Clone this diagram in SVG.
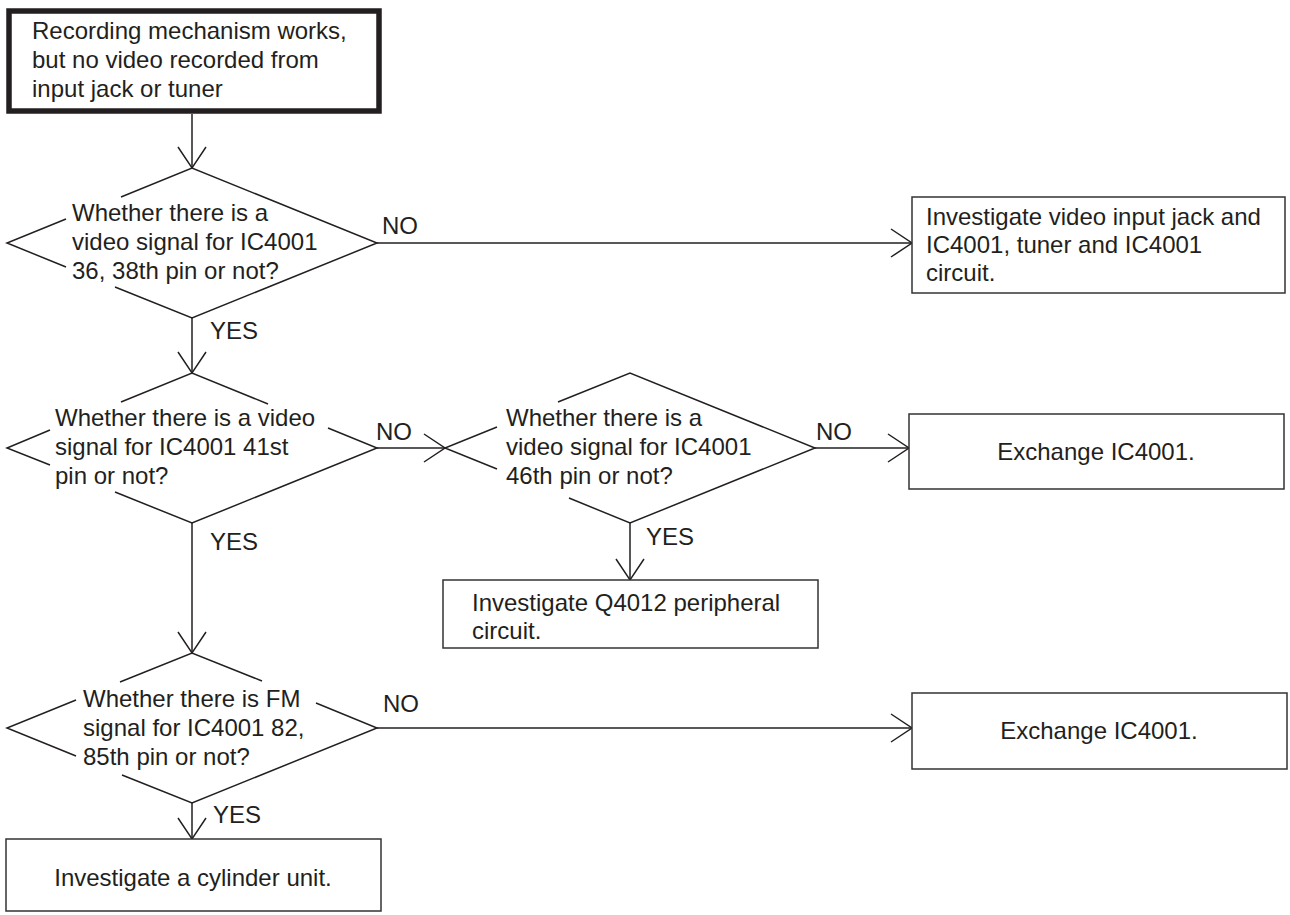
<svg xmlns="http://www.w3.org/2000/svg" width="1290" height="915" viewBox="0 0 1290 915">
<style>
text{font-family:"Liberation Sans",Arial,sans-serif;font-size:24px;fill:#231f20}
.ln{fill:none;stroke:#231f20;stroke-width:1.5}
.box{fill:#fff;stroke:#333;stroke-width:1.5}
.start{fill:#fff;stroke:#231f20;stroke-width:5.5}
.mid{text-anchor:middle}
</style>
<defs>
<marker id="arr" markerUnits="userSpaceOnUse" markerWidth="30" markerHeight="34" viewBox="-24 -17 30 34" refX="0" refY="0" orient="auto">
<path d="M-21,-14 L0,0 L-21,14" fill="none" stroke="#231f20" stroke-width="1.5"/>
</marker>
</defs>
<rect width="1290" height="915" fill="#fff"/>
<g id="connectors">
<path class="ln" d="M192,114 V168" marker-end="url(#arr)"/>
<path class="ln" d="M192,318 V373" marker-end="url(#arr)"/>
<path class="ln" d="M377,243 H912" marker-end="url(#arr)"/>
<path class="ln" d="M377,448 H445" marker-end="url(#arr)"/>
<path class="ln" d="M815,448 H909" marker-end="url(#arr)"/>
<path class="ln" d="M630,523 V580" marker-end="url(#arr)"/>
<path class="ln" d="M192,523 V653" marker-end="url(#arr)"/>
<path class="ln" d="M377,728 H912" marker-end="url(#arr)"/>
<path class="ln" d="M192,803 V839" marker-end="url(#arr)"/>
<text x="382" y="234">NO</text>
<text x="210" y="339">YES</text>
<text x="376" y="440">NO</text>
<text x="816" y="440">NO</text>
<text x="646" y="545">YES</text>
<text x="210" y="550">YES</text>
<text x="383" y="712">NO</text>
<text x="213" y="823">YES</text>
</g>
<g id="start">
<rect class="start" x="9" y="11" width="370" height="100"/>
<text x="32" y="39">Recording mechanism works,</text>
<text x="32" y="68">but no video recorded from</text>
<text x="32" y="97">input jack or tuner</text>
</g>
<g id="d1">
<path class="ln" d="M115,287 L192,318 L377,243 L192,168 L121,197 M66,219 L7,243 L66,267"/>
<text x="72" y="221">Whether there is a</text>
<text x="72" y="250">video signal for IC4001</text>
<text x="72" y="279">36, 38th pin or not?</text>
</g>
<g id="box1">
<rect class="box" x="912" y="197" width="373" height="96"/>
<text x="926" y="225">Investigate video input jack and</text>
<text x="926" y="253">IC4001, tuner and IC4001</text>
<text x="926" y="281">circuit.</text>
</g>
<g id="d2">
<path class="ln" d="M328,428 L377,448 L192,523 L115,492 M268,404 L192,373 L121,402 M50,430 L7,448 L50,465"/>
<text x="55" y="426">Whether there is a video</text>
<text x="55" y="455">signal for IC4001 41st</text>
<text x="55" y="484">pin or not?</text>
</g>
<g id="d3">
<path class="ln" d="M569,498 L630,523 L815,448 L630,373 L558,402 M497,427 L445,448 L497,469"/>
<text x="506" y="426">Whether there is a</text>
<text x="506" y="455">video signal for IC4001</text>
<text x="506" y="484">46th pin or not?</text>
</g>
<g id="box2">
<rect class="box" x="909" y="414" width="375" height="75"/>
<text class="mid" x="1096" y="460">Exchange IC4001.</text>
</g>
<g id="box3">
<rect class="box" x="443" y="580" width="375" height="68"/>
<text x="472" y="611">Investigate Q4012 peripheral</text>
<text x="472" y="639">circuit.</text>
</g>
<g id="d4">
<path class="ln" d="M316,703 L377,728 L192,803 L122,775 M262,681 L192,653 L120,682 M76,700 L7,728 L76,756"/>
<text x="83" y="707">Whether there is FM</text>
<text x="83" y="736">signal for IC4001 82,</text>
<text x="83" y="765">85th pin or not?</text>
</g>
<g id="box4">
<rect class="box" x="912" y="693" width="375" height="76"/>
<text class="mid" x="1099" y="739">Exchange IC4001.</text>
</g>
<g id="box5">
<rect class="box" x="6" y="839" width="375" height="72"/>
<text class="mid" x="193" y="886">Investigate a cylinder unit.</text>
</g>
</svg>
